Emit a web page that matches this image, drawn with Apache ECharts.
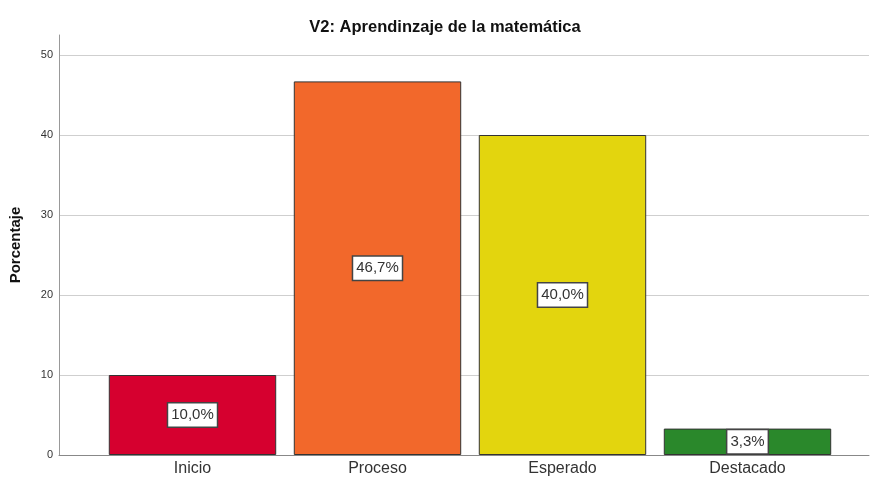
<!DOCTYPE html>
<html><head><meta charset="utf-8">
<script src="https://cdn.jsdelivr.net/npm/echarts@6/dist/echarts.min.js"></script>
<style>html,body{margin:0;padding:0;background:#fff}#c{width:870px;height:479px}</style>
</head><body><div id="c"></div>
<script>
const categories = ['Inicio', 'Proceso', 'Esperado', 'Destacado'];
const values = [10.0, 46.7, 40.0, 3.3];
const labels = ['10,0%', '46,7%', '40,0%', '3,3%'];
const colors = ['#D6002F', '#F2682B', '#E3D50E', '#2A882B'];
const yTicks = [0, 10, 20, 30, 40, 50];

const chart = echarts.init(document.getElementById('c'), null, {renderer: 'canvas'});
const font = '"Liberation Sans", Arial, sans-serif';
chart.setOption({
  animation: false,
  title: {
    text: 'V2: Aprendinzaje de la matemática', left: 440, top: 14, textAlign: 'center',
    textStyle: {fontFamily: font, fontSize: 16.5, fontWeight: 'bold', color: '#111'}
  },
  grid: [
    {left: 58, right: 1, top: 35, bottom: 24},
    {left: 100, right: 30, top: 35, bottom: 24}
  ],
  xAxis: [
    {gridIndex: 0, type: 'value', min: 0, max: 1, show: true,
     axisLine: {show: true, lineStyle: {color: '#888', width: 1}},
     axisTick: {show: false}, axisLabel: {show: false}, splitLine: {show: false}},
    {gridIndex: 1, type: 'category', data: categories,
     axisLine: {show: false}, axisTick: {show: false},
     axisLabel: {fontFamily: font, fontSize: 16, color: '#333', margin: 6}}
  ],
  yAxis: [
    {gridIndex: 0, type: 'value', min: 0, max: 52.5, interval: 10,
     name: 'Porcentaje', nameLocation: 'middle', nameGap: 36, nameRotate: 90,
     nameTextStyle: {fontFamily: font, fontSize: 15, fontWeight: 'bold', color: '#111'},
     axisLine: {show: true, lineStyle: {color: '#999'}},
     axisTick: {show: false},
     axisLabel: {fontFamily: font, fontSize: 11, color: '#333', margin: 6,
       formatter: v => yTicks.includes(v) ? String(v) : ''},
     splitLine: {show: true, showMaxLine: false, lineStyle: {color: '#cfcfcf', width: 1}}},
    {gridIndex: 1, type: 'value', min: 0, max: 52.5, interval: 10, show: false}
  ],
  series: [{
    type: 'bar', xAxisIndex: 1, yAxisIndex: 1,
    barCategoryGap: '9.5%',
    data: values.map((v, i) => ({value: v, itemStyle: {color: colors[i]}})),
    itemStyle: {borderColor: '#333', borderWidth: 1},
    label: {
      show: true, position: 'inside',
      formatter: p => labels[p.dataIndex],
      fontFamily: font, fontSize: 15, color: '#333',
      backgroundColor: '#fff', borderColor: '#444', borderWidth: 1.5,
      padding: [5, 3, 3, 3]
    }
  }]
});
</script></body></html>
